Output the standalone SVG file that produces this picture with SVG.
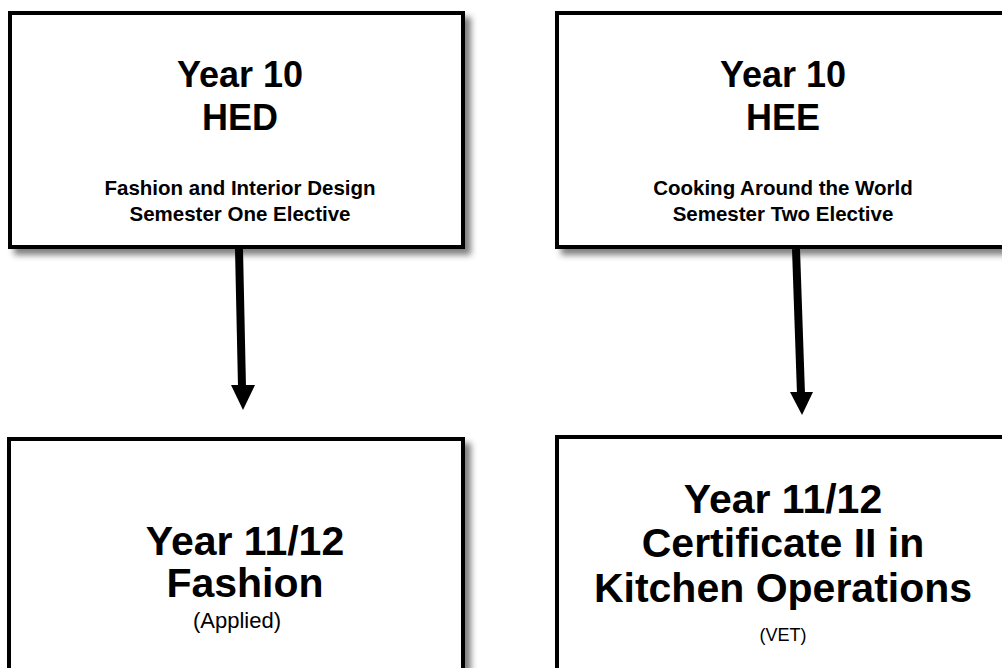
<svg xmlns="http://www.w3.org/2000/svg" width="1002" height="668" viewBox="0 0 1002 668">
<style>
.box{fill:#fff;stroke:#000;stroke-width:4}
.t{font-family:"Liberation Sans",Arial,sans-serif;font-weight:bold;text-anchor:middle;fill:#000}
.r{font-family:"Liberation Sans",Arial,sans-serif;text-anchor:middle;fill:#000}
.conn{stroke:#000;stroke-width:8;fill:none}
</style>
<defs>
<filter id="sh" x="-5%" y="-5%" width="115%" height="120%">
<feGaussianBlur in="SourceAlpha" stdDeviation="3"/>
<feOffset dx="6" dy="6" result="b"/>
<feComponentTransfer><feFuncA type="linear" slope="0.5"/></feComponentTransfer>
<feMerge><feMergeNode/><feMergeNode in="SourceGraphic"/></feMerge>
</filter>
</defs>
<rect width="1002" height="668" fill="#fff"/>
<g id="n1">
<rect class="box" x="10" y="13" width="453" height="234" filter="url(#sh)"/>
<text class="t" x="240" y="87" font-size="36">Year 10</text>
<text class="t" x="240" y="130" font-size="36">HED</text>
<text class="t" x="240" y="195" font-size="20.5">Fashion and Interior Design</text>
<text class="t" x="240" y="221" font-size="20.5">Semester One Elective</text>
</g>
<g id="n2">
<rect class="box" x="557" y="13" width="455" height="234" filter="url(#sh)"/>
<text class="t" x="783" y="87" font-size="36">Year 10</text>
<text class="t" x="783" y="130" font-size="36">HEE</text>
<text class="t" x="783" y="195" font-size="20.5">Cooking Around the World</text>
<text class="t" x="783" y="221" font-size="20.5">Semester Two Elective</text>
</g>
<g id="n3">
<rect class="box" x="9" y="439" width="454" height="260" filter="url(#sh)"/>
<text class="t" x="245" y="555" font-size="41">Year 11/12</text>
<text class="t" x="245" y="597" font-size="41">Fashion</text>
<text class="r" x="237" y="628" font-size="22">(Applied)</text>
</g>
<g id="n4">
<rect class="box" x="557" y="437" width="455" height="260" filter="url(#sh)"/>
<text class="t" x="783" y="513" font-size="41">Year 11/12</text>
<text class="t" x="783" y="557" font-size="41">Certificate II in</text>
<text class="t" x="783" y="602" font-size="41">Kitchen Operations</text>
<text class="r" x="783" y="641" font-size="18">(VET)</text>
</g>
<g id="connectors">
<line class="conn" x1="239" y1="249" x2="242" y2="387"/>
<polygon points="231,385 255,385 243,410" fill="#000"/>
<line class="conn" x1="796" y1="249" x2="801" y2="394"/>
<polygon points="790,392 813,392 802,415" fill="#000"/>
</g>
</svg>
